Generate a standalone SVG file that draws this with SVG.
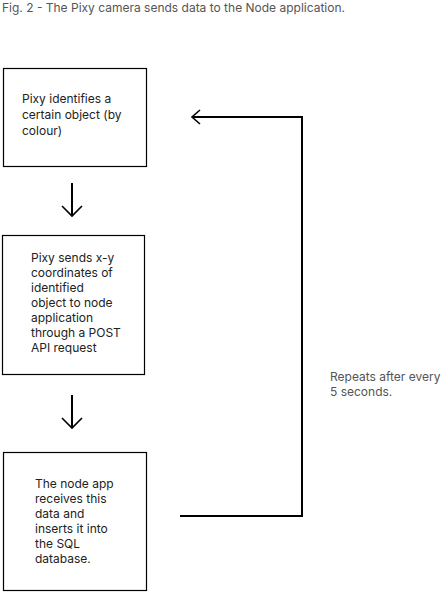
<svg xmlns="http://www.w3.org/2000/svg" width="447" height="592" viewBox="0 0 447 592">
<style>
.box{fill:#fff;stroke:#000;stroke-width:1.2}
.t{font-family:Inter,"Liberation Sans",sans-serif;font-size:12px;fill:#222}
.cap{font-family:Inter,"Liberation Sans",sans-serif;font-size:12px;fill:#555}
.ln{fill:none;stroke:#000;stroke-width:2}
.ah{fill:none;stroke:#000;stroke-width:1.6}
</style>
<rect width="447" height="592" fill="#fff"/>
<text class="cap" x="2" y="12">Fig. 2 - The Pixy camera sends data to the Node application.</text>
<g id="node1">
<rect class="box" x="3.5" y="68.5" width="143" height="98"/>
<text class="t"><tspan x="22" y="103">Pixy identifies a</tspan><tspan x="22" y="119">certain object (by</tspan><tspan x="22" y="135">colour)</tspan></text>
</g>
<g id="node2">
<rect class="box" x="2.5" y="235.5" width="142" height="139"/>
<text class="t"><tspan x="31" y="262">Pixy sends x-y</tspan><tspan x="31" y="277">coordinates of</tspan><tspan x="31" y="292">identified</tspan><tspan x="31" y="307">object to node</tspan><tspan x="31" y="322">application</tspan><tspan x="31" y="337">through a POST</tspan><tspan x="31" y="352">API request</tspan></text>
</g>
<g id="node3">
<rect class="box" x="3.5" y="452.5" width="143" height="138"/>
<text class="t"><tspan x="35" y="488">The node app</tspan><tspan x="35" y="503">receives this</tspan><tspan x="35" y="518">data and</tspan><tspan x="35" y="533">inserts it into</tspan><tspan x="35" y="548">the SQL</tspan><tspan x="35" y="563">database.</tspan></text>
</g>
<g id="label">
<text class="cap"><tspan x="330" y="381">Repeats after every</tspan><tspan x="330" y="396">5 seconds.</tspan></text>
</g>
<g id="connectors">
<line class="ln" x1="72" y1="183" x2="72" y2="216"/>
<polyline class="ah" points="62,206 72,216 82,206"/>
<line class="ln" x1="72" y1="395" x2="72" y2="428"/>
<polyline class="ah" points="62,418 72,428 82,418"/>
<polyline class="ln" points="180,516 302,516 302,117 192,117"/>
<polyline class="ah" points="200,110 192,117 200,124"/>
</g>
</svg>
